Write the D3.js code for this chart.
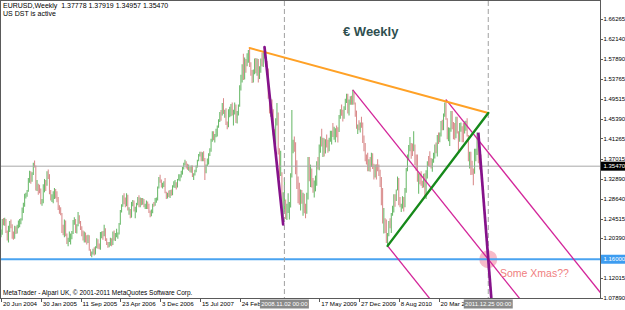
<!DOCTYPE html>
<html><head><meta charset="utf-8">
<script src="https://cdn.jsdelivr.net/npm/d3@7"></script>
<style>html,body{margin:0;padding:0;background:#fff;overflow:hidden}</style>
</head><body>
<svg id="c" width="625" height="310"></svg>
<script>
// ---- DATA (weekly EURUSD bars: [high, low, close]; open = previous close) ----
const firstOpen = 1.2120;
const bars2004 = [[1.2220,1.2060,1.2155],[1.2440,1.2110,1.2420],[1.2460,1.2310,1.2390],[1.2470,1.2300,1.2430],[1.2440,1.2150,1.2180],[1.2200,1.1990,1.2030],[1.2300,1.1950,1.2280],[1.2400,1.2170,1.2380],[1.2430,1.2250,1.2310],[1.2330,1.2030,1.2080],[1.2180,1.2010,1.2070],[1.2300,1.2030,1.2270],[1.2290,1.2130,1.2170],[1.2320,1.2140,1.2280],[1.2410,1.2250,1.2390],[1.2440,1.2270,1.2410],[1.2460,1.2330,1.2430],[1.2680,1.2410,1.2650],[1.2780,1.2570,1.2750],[1.2970,1.2700,1.2945],[1.2990,1.2870,1.2960],[1.3050,1.2910,1.3030],[1.3300,1.3010,1.3270],[1.3450,1.3200,1.3400],[1.3440,1.3180,1.3250],[1.3420,1.3220,1.3400],[1.3620,1.3360,1.3600],[1.3667,1.3520,1.3560]];
const bars2005 = [[1.3560,1.3040,1.3070],[1.3260,1.3030,1.3120],[1.3180,1.2950,1.3060],[1.3160,1.2980,1.3040],[1.3080,1.2750,1.2770],[1.2860,1.2720,1.2780],[1.3170,1.2770,1.3150],[1.3280,1.3000,1.3250],[1.3260,1.3030,1.3160],[1.3440,1.3140,1.3420],[1.3480,1.3280,1.3320],[1.3380,1.2960,1.2970],[1.3050,1.2830,1.2830],[1.2960,1.2800,1.2880],[1.3020,1.2770,1.2900],[1.3090,1.2860,1.3050],[1.3070,1.2870,1.2920],[1.3020,1.2790,1.2810],[1.2900,1.2630,1.2650],[1.2730,1.2550,1.2640],[1.2690,1.2520,1.2540],[1.2570,1.2150,1.2260],[1.2320,1.2100,1.2160],[1.2430,1.2060,1.2380],[1.2410,1.2080,1.2100],[1.2140,1.1920,1.1920],[1.2050,1.1870,1.1980],[1.2180,1.1960,1.2060],[1.2140,1.1910,1.2090],[1.2190,1.2020,1.2150],[1.2420,1.2130,1.2350],[1.2480,1.2320,1.2430],[1.2440,1.2150,1.2180],[1.2330,1.2140,1.2300],[1.2590,1.2290,1.2510],[1.2520,1.2340,1.2390],[1.2400,1.2210,1.2230],[1.2290,1.2080,1.2160],[1.2200,1.1990,1.2020],[1.2180,1.1950,1.2140],[1.2160,1.1950,1.2020],[1.2100,1.1910,1.1980],[1.2110,1.1940,1.2040],[1.2100,1.1780,1.1780],[1.1810,1.1670,1.1700],[1.1760,1.1640,1.1730],[1.1820,1.1700,1.1790],[1.1850,1.1680,1.1710],[1.1870,1.1700,1.1850],[1.2040,1.1830,1.2010],[1.2020,1.1820,1.1870],[1.1930,1.1810,1.1840]];
const bars2006 = [[1.2170,1.1800,1.2140],[1.2180,1.2040,1.2140],[1.2190,1.2010,1.2130],[1.2320,1.2080,1.2240],[1.2250,1.1980,1.2000],[1.2040,1.1900,1.1910],[1.1960,1.1840,1.1880],[1.1960,1.1850,1.1910],[1.2050,1.1880,1.2040],[1.2040,1.1870,1.1910],[1.2180,1.1900,1.2170],[1.2200,1.1990,1.2040],[1.2150,1.1980,1.2120],[1.2240,1.2060,1.2130],[1.2160,1.2030,1.2140],[1.2360,1.2120,1.2340],[1.2630,1.2320,1.2620],[1.2750,1.2580,1.2730],[1.2940,1.2700,1.2920],[1.2980,1.2750,1.2800],[1.2890,1.2690,1.2740],[1.2980,1.2710,1.2940],[1.2950,1.2620,1.2620],[1.2690,1.2530,1.2640],[1.2650,1.2460,1.2480],[1.2800,1.2470,1.2790],[1.2840,1.2710,1.2810],[1.2830,1.2600,1.2620],[1.2700,1.2460,1.2670],[1.2780,1.2580,1.2750],[1.2900,1.2730,1.2880],[1.2940,1.2690,1.2700],[1.2890,1.2690,1.2880],[1.2880,1.2730,1.2750],[1.2880,1.2740,1.2830],[1.2860,1.2690,1.2700],[1.2760,1.2650,1.2700],[1.2830,1.2650,1.2790],[1.2810,1.2650,1.2680],[1.2760,1.2570,1.2580],[1.2620,1.2480,1.2530],[1.2640,1.2500,1.2620],[1.2760,1.2560,1.2750],[1.2800,1.2700,1.2740],[1.2880,1.2720,1.2830],[1.2890,1.2780,1.2850],[1.3120,1.2830,1.3110],[1.3320,1.3080,1.3300],[1.3370,1.3200,1.3260],[1.3270,1.3100,1.3110],[1.3200,1.3080,1.3140],[1.3230,1.3110,1.3200],[1.3300,1.2980,1.2990]];
const bars2007 = [[1.3010,1.2860,1.2920],[1.2990,1.2870,1.2960],[1.3040,1.2900,1.2940],[1.3050,1.2880,1.3030],[1.3060,1.2930,1.2970],[1.3150,1.2940,1.3130],[1.3230,1.3100,1.3170],[1.3260,1.3090,1.3170],[1.3210,1.3060,1.3120],[1.3280,1.3100,1.3270],[1.3380,1.3250,1.3280],[1.3380,1.3230,1.3350],[1.3450,1.3310,1.3440],[1.3530,1.3370,1.3520],[1.3620,1.3480,1.3600],[1.3680,1.3560,1.3650],[1.3650,1.3500,1.3530],[1.3600,1.3470,1.3500],[1.3580,1.3450,1.3510],[1.3530,1.3420,1.3450],[1.3560,1.3410,1.3510],[1.3560,1.3320,1.3350],[1.3400,1.3260,1.3380],[1.3470,1.3350,1.3450],[1.3560,1.3420,1.3540],[1.3680,1.3520,1.3670],[1.3800,1.3650,1.3780],[1.3850,1.3750,1.3820],[1.3850,1.3650,1.3680],[1.3840,1.3650,1.3830],[1.3860,1.3650,1.3680],[1.3720,1.3260,1.3420],[1.3580,1.3400,1.3570],[1.3710,1.3550,1.3660],[1.3820,1.3580,1.3800],[1.3920,1.3760,1.3880],[1.4120,1.3850,1.4090],[1.4280,1.4060,1.4260],[1.4280,1.4090,1.4160],[1.4220,1.4040,1.4180],[1.4330,1.4150,1.4300],[1.4400,1.4170,1.4370],[1.4530,1.4350,1.4510],[1.4680,1.4470,1.4650],[1.4720,1.4500,1.4640],[1.4870,1.4610,1.4840],[1.4970,1.4640,1.4630],[1.4730,1.4560,1.4660],[1.4760,1.4410,1.4420],[1.4480,1.4320,1.4390],[1.4740,1.4360,1.4720],[1.4790,1.4570,1.4750]];
const bars2008 = [[1.4850,1.4590,1.4760],[1.4880,1.4610,1.4630],[1.4730,1.4400,1.4690],[1.4880,1.4630,1.4810],[1.4840,1.4450,1.4500],[1.4700,1.4440,1.4680],[1.4840,1.4610,1.4830],[1.5240,1.4790,1.5190],[1.5460,1.5130,1.5350],[1.5680,1.5300,1.5660],[1.5900,1.5350,1.5430],[1.5820,1.5360,1.5790],[1.5790,1.5500,1.5710],[1.5910,1.5640,1.5810],[1.5980,1.5710,1.5930],[1.6020,1.5620,1.5620],[1.5720,1.5440,1.5470],[1.5560,1.5290,1.5390],[1.5570,1.5300,1.5500],[1.5800,1.5470,1.5770],[1.5810,1.5490,1.5550],[1.5800,1.5440,1.5770],[1.5790,1.5300,1.5400],[1.5640,1.5370,1.5620],[1.5800,1.5500,1.5790],[1.5920,1.5640,1.5690],[1.5960,1.5620,1.5940],[1.6040,1.5800,1.5850],[1.5860,1.5620,1.5690],[1.5750,1.5470,1.5580],[1.5590,1.4960,1.5000],[1.5020,1.4650,1.4680],[1.4960,1.4580,1.4860],[1.4940,1.4580,1.4670],[1.4740,1.4190,1.4270],[1.4320,1.3880,1.4210],[1.4550,1.4000,1.4500],[1.4870,1.4400,1.4620],[1.4670,1.3790,1.3800],[1.3920,1.3290,1.3400],[1.3870,1.3340,1.3410],[1.3420,1.2520,1.2550],[1.3000,1.2330,1.2730],[1.3300,1.2590,1.2740],[1.2850,1.2440,1.2570],[1.2760,1.2420,1.2570],[1.2980,1.2570,1.2680],[1.2800,1.2430,1.2710],[1.3400,1.2680,1.3330],[1.4720,1.3310,1.3920],[1.4100,1.3820,1.4080],[1.4170,1.3850,1.3930]];
const bars2009 = [[1.4050,1.3380,1.3450],[1.3670,1.3070,1.3210],[1.3330,1.2770,1.2830],[1.3200,1.2740,1.2800],[1.3060,1.2620,1.2940],[1.3050,1.2760,1.2870],[1.2990,1.2510,1.2920],[1.2970,1.2560,1.2670],[1.2760,1.2460,1.2660],[1.2990,1.2550,1.2930],[1.3740,1.2850,1.3590],[1.3740,1.3230,1.3280],[1.3580,1.3110,1.3480],[1.3500,1.3100,1.3200],[1.3300,1.2990,1.3040],[1.3250,1.2890,1.3250],[1.3350,1.3020,1.3270],[1.3650,1.3140,1.3640],[1.3740,1.3480,1.3510],[1.4000,1.3460,1.3990],[1.4170,1.3830,1.4150],[1.4330,1.3960,1.3970],[1.4140,1.3740,1.3990],[1.4130,1.3750,1.3920],[1.4110,1.3810,1.4030],[1.4210,1.3940,1.3970],[1.4100,1.3830,1.3940],[1.4140,1.3860,1.4120],[1.4290,1.4060,1.4200],[1.4290,1.4000,1.4260],[1.4450,1.4160,1.4180],[1.4370,1.4100,1.4190],[1.4340,1.4050,1.4330],[1.4400,1.4150,1.4320],[1.4360,1.4040,1.4310],[1.4620,1.4260,1.4580],[1.4740,1.4540,1.4710],[1.4840,1.4600,1.4680],[1.4730,1.4480,1.4590],[1.4800,1.4540,1.4750],[1.4960,1.4720,1.4910],[1.5060,1.4870,1.5010],[1.5060,1.4650,1.4720],[1.4940,1.4610,1.4870],[1.5010,1.4830,1.4910],[1.5020,1.4830,1.4860],[1.5144,1.4830,1.4970],[1.5100,1.4840,1.4850],[1.4880,1.4580,1.4620],[1.4710,1.4330,1.4340],[1.4420,1.4220,1.4350],[1.4510,1.4300,1.4320]];
const bars2010 = [[1.4460,1.4250,1.4410],[1.4580,1.4350,1.4390],[1.4460,1.4030,1.4140],[1.4190,1.3860,1.3870],[1.4030,1.3650,1.3670],[1.3790,1.3580,1.3630],[1.3830,1.3440,1.3610],[1.3690,1.3440,1.3630],[1.3740,1.3430,1.3620],[1.3830,1.3530,1.3770],[1.3820,1.3490,1.3530],[1.3600,1.3270,1.3410],[1.3580,1.3310,1.3570],[1.3590,1.3270,1.3540],[1.3690,1.3440,1.3510],[1.3580,1.3340,1.3370],[1.3470,1.3110,1.3290],[1.3320,1.2730,1.2750],[1.3090,1.2350,1.2390],[1.2670,1.2140,1.2570],[1.2460,1.2150,1.2270],[1.2430,1.1940,1.1970],[1.2150,1.1880,1.2120],[1.2400,1.2080,1.2390],[1.2460,1.2250,1.2380],[1.2570,1.2150,1.2560],[1.2720,1.2510,1.2640],[1.2960,1.2580,1.2940],[1.2960,1.2700,1.2900],[1.3060,1.2820,1.3050],[1.3330,1.3040,1.3280],[1.3300,1.2730,1.2750],[1.2900,1.2690,1.2710],[1.2760,1.2590,1.2760],[1.2920,1.2660,1.2900],[1.2900,1.2600,1.2710],[1.3090,1.2690,1.3050],[1.3510,1.2990,1.3500],[1.3790,1.3440,1.3790],[1.3990,1.3680,1.3950],[1.4160,1.3860,1.3970],[1.4030,1.3700,1.3960],[1.4020,1.3760,1.3940],[1.4280,1.3860,1.4030],[1.4000,1.3570,1.3700],[1.3790,1.3450,1.3680],[1.3790,1.3220,1.3240],[1.3400,1.2970,1.3400],[1.3400,1.3170,1.3230],[1.3440,1.3140,1.3190],[1.3240,1.3090,1.3120],[1.3390,1.3100,1.3380]];
const bars2011 = [[1.3400,1.2900,1.2910],[1.3460,1.2860,1.3380],[1.3650,1.3290,1.3610],[1.3760,1.3550,1.3600],[1.3860,1.3530,1.3590],[1.3720,1.3500,1.3520],[1.3700,1.3430,1.3700],[1.3830,1.3620,1.3750],[1.4000,1.3710,1.3990],[1.4040,1.3820,1.3900],[1.4200,1.3750,1.4180],[1.4250,1.4010,1.4090],[1.4250,1.4050,1.4230],[1.4490,1.4170,1.4480],[1.4520,1.4300,1.4430],[1.4650,1.4300,1.4570],[1.4880,1.4580,1.4810],[1.4940,1.4520,1.4530],[1.4550,1.4110,1.4130],[1.4360,1.4070,1.4150],[1.4350,1.3970,1.4320],[1.4700,1.4270,1.4640],[1.4700,1.4320,1.4340],[1.4470,1.4110,1.4310],[1.4450,1.4100,1.4200],[1.4580,1.4130,1.4530],[1.4580,1.4230,1.4260],[1.4280,1.3840,1.4150],[1.4450,1.4060,1.4390],[1.4460,1.4270,1.4390],[1.4380,1.4050,1.4280],[1.4450,1.4050,1.4240],[1.4480,1.4230,1.4390],[1.4500,1.4290,1.4490],[1.4550,1.4170,1.4210],[1.4200,1.3650,1.3650],[1.3850,1.3500,1.3790],[1.3850,1.3360,1.3500],[1.3660,1.3370,1.3390],[1.3500,1.3150,1.3380],[1.3910,1.3390,1.3880],[1.3910,1.3650,1.3890],[1.4250,1.3780,1.4150],[1.4120,1.3610,1.3790],[1.3820,1.3480,1.37778],[1.37919,1.34957,1.35470]];

const priceTicks = [1.66265,1.62140,1.57890,1.53765,1.49515,1.45390,1.41265,1.37015,1.32890,1.28640,1.24515,1.20390,1.12015,1.07890];
const dateTickIdx = [0,32,64,96,128,160,192,256,288,320,352];
const dateTickLabels = ["20 Jun 2004","30 Jan 2005","11 Sep 2005","23 Apr 2006","3 Dec 2006","15 Jul 2007","24 Feb 2008","17 May 2009","27 Dec 2009","8 Aug 2010","20 Mar 2011"];
const vLineIdx = [228,392];
const vLineLabels = ["2008.11.02 00:00","2011.12.25 00:00"];
const currentPrice = 1.35470;
const bluePrice = 1.16000;
const orangeLine = [[200,1.6020],[392,1.4660]];
const greenLine = [[311,1.1880],[392,1.4660]];
const purpleLine1 = [[212,1.6040],[227,1.2330]];
const purpleRay2 = [[384,1.4250],[392,1.1600]];
const channelBase = [[283,1.5144],[392,1.1600]];
const channelAnchors = [[358,1.4940],[311,1.1880]];
const circlePoint = [392,1.1600];
const header1 = "EURUSD,Weekly  1.37778 1.37919 1.34957 1.35470";
const header2 = "US DST is active";
const footer = "MetaTrader - Alpari UK, \u00a9 2001-2011 MetaQuotes Software Corp.";
const title = "\u20ac Weekly";
const note = "Some Xmas??";

// ---- DRAW ----
const svg = d3.select("#c");
const FONT = "'Liberation Sans', Arial, sans-serif";
const P = {l:1, t:1, r:600, b:298};
const weeks = [].concat(bars2004,bars2005,bars2006,bars2007,bars2008,bars2009,bars2010,bars2011);
const series = weeks.map((d,i)=>({i, o: i===0?firstOpen:weeks[i-1][2], h:d[0], l:d[1], c:d[2]}));

const x = d3.scaleLinear().domain([0,392]).range([P.l, P.l + 392*1.243]);
const y = d3.scaleLinear().domain([1.07890,1.66265]).range([298,19]);

svg.append("rect").attr("width",625).attr("height",310).attr("fill","#fff");
const defs = svg.append("defs");
defs.append("clipPath").attr("id","clip")
  .append("rect").attr("x",P.l).attr("y",P.t).attr("width",P.r-P.l).attr("height",P.b-P.t);
const g = svg.append("g").attr("clip-path","url(#clip)");

// bars
g.append("g").selectAll("line").data(series).join("line")
  .attr("x1",d=>x(d.i)).attr("x2",d=>x(d.i))
  .attr("y1",d=>y(d.h)).attr("y2",d=>y(d.l))
  .attr("stroke",d=>d.c>=d.o?"#45a845":"#d06e6e")
  .attr("stroke-opacity",0.8)
  .attr("stroke-width",1.05);

// circle
g.append("circle").attr("cx",x(circlePoint[0])).attr("cy",y(circlePoint[1])).attr("r",9)
  .attr("fill","#f5a9bb").attr("fill-opacity",0.8);

// horizontal lines
g.append("line").attr("x1",P.l).attr("x2",P.r).attr("y1",y(currentPrice)).attr("y2",y(currentPrice))
  .attr("stroke","#a8a8a8").attr("stroke-width",1);
g.append("line").attr("x1",P.l).attr("x2",P.r).attr("y1",y(bluePrice)).attr("y2",y(bluePrice))
  .attr("stroke","#4aa3f0").attr("stroke-width",1.8);

// vertical dashed lines
g.selectAll("line.v").data(vLineIdx).join("line").attr("class","v")
  .attr("x1",d=>x(d)).attr("x2",d=>x(d)).attr("y1",P.t).attr("y2",P.b)
  .attr("stroke","#a0a0a0").attr("stroke-width",1).attr("stroke-dasharray","5,3");

function seg(pts, color, w){
  g.append("line").attr("x1",x(pts[0][0])).attr("y1",y(pts[0][1]))
    .attr("x2",x(pts[1][0])).attr("y2",y(pts[1][1]))
    .attr("stroke",color).attr("stroke-width",w).attr("stroke-linecap","round");
}
function ray(p0, di, dp, color, w){
  const k = 40;
  g.append("line").attr("x1",x(p0[0])).attr("y1",y(p0[1]))
    .attr("x2",x(p0[0]+di*k)).attr("y2",y(p0[1]+dp*k))
    .attr("stroke",color).attr("stroke-width",w);
}
const cdi = channelBase[1][0]-channelBase[0][0], cdp = channelBase[1][1]-channelBase[0][1];
const MAG = "#d3259a";
ray(channelBase[0], cdi, cdp, MAG, 1.3);
channelAnchors.forEach(a=>ray(a, cdi, cdp, MAG, 1.3));
seg(orangeLine, "#ffa126", 2);
seg(greenLine, "#16891a", 2.4);
seg(purpleLine1, "#85128a", 2.7);
ray(purpleRay2[0], purpleRay2[1][0]-purpleRay2[0][0], purpleRay2[1][1]-purpleRay2[0][1], "#85128a", 2.7);

// frame
svg.append("rect").attr("x",P.l-0.5).attr("y",P.t-0.5).attr("width",P.r-P.l+1).attr("height",P.b-P.t+1)
  .attr("fill","none").attr("stroke","#5a5a5a").attr("stroke-width",1);

// right axis
const AX = 6;
const ya = svg.append("g");
priceTicks.forEach(v=>{
  ya.append("line").attr("x1",P.r).attr("x2",P.r+3).attr("y1",Math.round(y(v))+0.5).attr("y2",Math.round(y(v))+0.5)
    .attr("stroke","#5a5a5a");
  ya.append("text").attr("x",P.r+3.5).attr("y",y(v)+2.1).text(d3.format(".5f")(v))
    .attr("font-family",FONT).attr("font-size",AX).attr("fill","#000");
});
function priceBox(v, bg){
  ya.append("rect").attr("x",P.r+1).attr("y",y(v)-4.5).attr("width",24).attr("height",9).attr("fill",bg);
  ya.append("text").attr("x",P.r+3.5).attr("y",y(v)+2.1).text(d3.format(".5f")(v))
    .attr("font-family",FONT).attr("font-size",AX).attr("fill","#fff");
}
priceBox(currentPrice,"#000");
priceBox(bluePrice,"#3d9cf0");

// bottom axis
const DX = 6.2;
const xa = svg.append("g");
vLineIdx.forEach((d,i)=>{
  defs.append("clipPath").attr("id","dclip"+i)
    .append("rect").attr("x",0).attr("y",290).attr("width",x(d)-24).attr("height",20);
});
dateTickIdx.forEach((d,i)=>{
  xa.append("line").attr("x1",Math.round(x(d))+0.5).attr("x2",Math.round(x(d))+0.5).attr("y1",P.b).attr("y2",P.b+4)
    .attr("stroke","#5a5a5a");
  const t = xa.append("text").attr("x",x(d)+2).attr("y",306).text(dateTickLabels[i])
    .attr("font-family",FONT).attr("font-size",DX).attr("fill","#000");
  vLineIdx.forEach((v,j)=>{
    if (x(d) < x(v)-24 && x(d)+38 > x(v)-24) t.attr("clip-path","url(#dclip"+j+")");
  });
});
vLineIdx.forEach((d,i)=>{
  xa.append("rect").attr("x",x(d)-24.5).attr("y",299.5).attr("width",49).attr("height",9).attr("fill","#8a8a8a");
  xa.append("text").attr("x",x(d)).attr("y",306).attr("text-anchor","middle").text(vLineLabels[i])
    .attr("font-family",FONT).attr("font-size",6).attr("fill","#fff");
});

// texts
svg.append("text").attr("x",3).attr("y",8).attr("xml:space","preserve").style("white-space","pre").text(header1)
  .attr("font-family",FONT).attr("font-size",7).attr("fill","#000");
svg.append("text").attr("x",3).attr("y",16).text(header2)
  .attr("font-family",FONT).attr("font-size",7).attr("fill","#000");
svg.append("text").attr("x",3).attr("y",295).text(footer)
  .attr("font-family",FONT).attr("font-size",6.5).attr("fill","#000");
svg.append("text").attr("x",343).attr("y",36).text(title)
  .attr("font-family",FONT).attr("font-size",13).attr("font-weight","bold").attr("fill","#2f4f4f");
svg.append("text").attr("x",500).attr("y",277).text(note)
  .attr("font-family",FONT).attr("font-size",10.5).attr("fill","#f08080");
</script>
</body></html>
